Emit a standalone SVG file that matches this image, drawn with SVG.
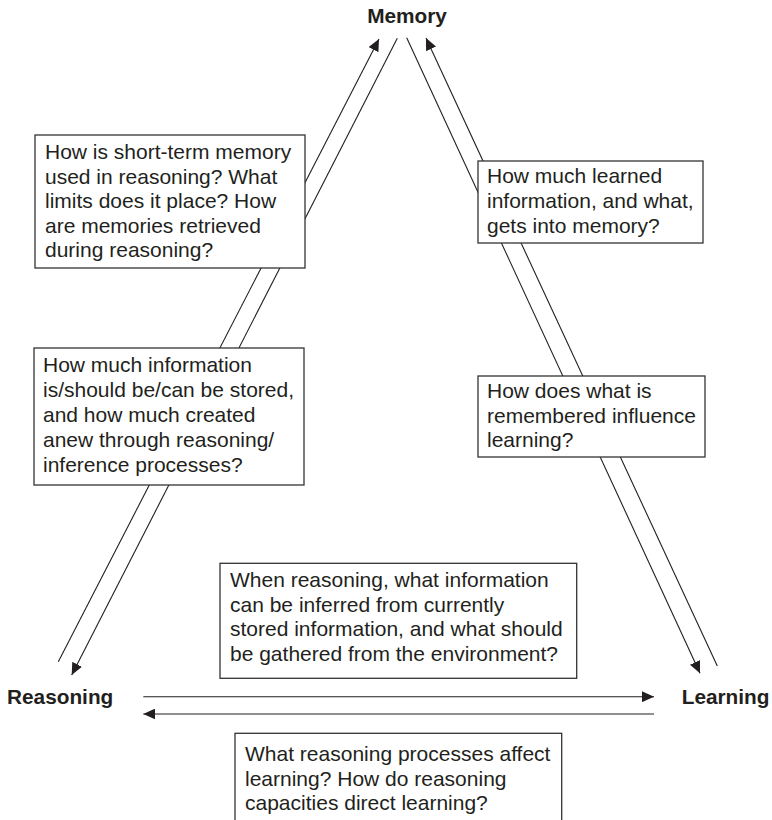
<svg xmlns="http://www.w3.org/2000/svg" width="772" height="820" viewBox="0 0 772 820">
  <style>
    .label { font-family: "Liberation Sans", Arial, Helvetica, sans-serif; font-size: 20.8px; font-weight: bold; fill: #231f20; }
    .q { font-family: "Liberation Sans", Arial, Helvetica, sans-serif; font-size: 21px; fill: #231f20; }
    .box { fill: #ffffff; stroke: #333333; stroke-width: 1.3; }
    .link { fill: none; stroke: #231f20; stroke-width: 1.1; marker-end: url(#ah); }
  </style>
  <defs>
    <marker id="ah" viewBox="0 0 12 11" refX="12" refY="5.5" markerWidth="12" markerHeight="11" markerUnits="userSpaceOnUse" orient="auto">
      <path d="M0,0 L12,5.5 L0,11 z" fill="#231f20"/>
    </marker>
  </defs>
  <rect width="772" height="820" fill="#ffffff"/>

  <!-- connectors (drawn first so question boxes sit over them) -->
  <g id="connectors">
    <line class="link" x1="58.3" y1="661.7" x2="379" y2="39"/>
    <line class="link" x1="397.3" y1="38.3" x2="71.7" y2="675"/>
    <line class="link" x1="406.7" y1="37.7" x2="700" y2="673.3"/>
    <line class="link" x1="717.3" y1="666" x2="426" y2="38"/>
    <line class="link" x1="143.3" y1="696.7" x2="654" y2="696.7"/>
    <line class="link" x1="654" y1="714" x2="143.3" y2="714"/>
  </g>

  <!-- main nodes -->
  <g id="memory">
    <text class="label" x="407" y="22.5" text-anchor="middle">Memory</text>
  </g>
  <g id="reasoning">
    <text class="label" x="7" y="703.5">Reasoning</text>
  </g>
  <g id="learning">
    <text class="label" x="681.7" y="703.5">Learning</text>
  </g>

  <!-- question boxes -->
  <g id="q-memory-reasoning-1">
    <rect class="box" x="35" y="135" width="270" height="133"/>
    <text class="q">
      <tspan x="45" y="159">How is short-term memory</tspan>
      <tspan x="45" y="183.6">used in reasoning? What</tspan>
      <tspan x="45" y="208.2">limits does it place? How</tspan>
      <tspan x="45" y="232.8">are memories retrieved</tspan>
      <tspan x="45" y="257.4">during reasoning?</tspan>
    </text>
  </g>
  <g id="q-memory-reasoning-2">
    <rect class="box" x="34" y="348" width="270" height="137"/>
    <text class="q">
      <tspan x="43" y="371.7">How much information</tspan>
      <tspan x="43" y="396.7">is/should be/can be stored,</tspan>
      <tspan x="43" y="421.7">and how much created</tspan>
      <tspan x="43" y="446.7">anew through reasoning/</tspan>
      <tspan x="43" y="471.7">inference processes?</tspan>
    </text>
  </g>
  <g id="q-learning-memory">
    <rect class="box" x="478" y="161" width="225" height="82"/>
    <text class="q">
      <tspan x="487" y="183.3">How much learned</tspan>
      <tspan x="487" y="208">information, and what,</tspan>
      <tspan x="487" y="232.7">gets into memory?</tspan>
    </text>
  </g>
  <g id="q-memory-learning">
    <rect class="box" x="478" y="376" width="227" height="81"/>
    <text class="q">
      <tspan x="487" y="398">How does what is</tspan>
      <tspan x="487" y="422.5">remembered influence</tspan>
      <tspan x="487" y="447">learning?</tspan>
    </text>
  </g>
  <g id="q-reasoning-learning">
    <rect class="box" x="220" y="563.3" width="356.7" height="115"/>
    <text class="q">
      <tspan x="230" y="587">When reasoning, what information</tspan>
      <tspan x="230" y="611.7">can be inferred from currently</tspan>
      <tspan x="230" y="636.4">stored information, and what should</tspan>
      <tspan x="230" y="661">be gathered from the environment?</tspan>
    </text>
  </g>
  <g id="q-learning-reasoning">
    <rect class="box" x="235" y="733.3" width="326.7" height="90"/>
    <text class="q">
      <tspan x="245" y="761">What reasoning processes affect</tspan>
      <tspan x="245" y="785.5">learning? How do reasoning</tspan>
      <tspan x="245" y="810">capacities direct learning?</tspan>
    </text>
  </g>
</svg>
